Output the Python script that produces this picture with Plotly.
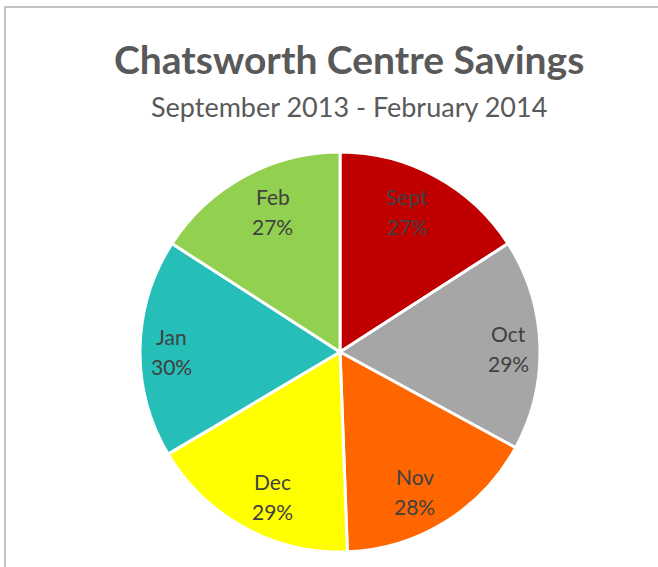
import math
import plotly.graph_objects as go

months = ["Sept", "Oct", "Nov", "Dec", "Jan", "Feb"]
savings = [27, 29, 28, 29, 30, 27]
colors = ["#C00000", "#A6A6A6", "#FF6600", "#FFFF00", "#26BEB8", "#92D050"]

W, H = 658, 567
cx, cy, r = 340, 352, 200
line_gap = 15

fig = go.Figure(go.Pie(
    labels=months,
    values=savings,
    sort=False,
    direction="clockwise",
    rotation=0,
    marker=dict(colors=colors, line=dict(color="white", width=3)),
    textinfo="none",
    hoverinfo="label+value",
    showlegend=False,
    domain=dict(x=[(cx - r) / W, (cx + r) / W], y=[1 - (cy + r) / H, 1 - (cy - r) / H]),
))

annotations = [
    dict(text="<b>Chatsworth Centre Savings</b>", x=349 / W, y=1 - 59 / H, xref="paper", yref="paper",
         showarrow=False, font=dict(family="Lato", size=39, color="#595959"), xanchor="center", yanchor="middle"),
    dict(text="September 2013 - February 2014", x=349 / W, y=1 - 106 / H, xref="paper", yref="paper",
         showarrow=False, font=dict(family="Lato", size=27, color="#595959"), xanchor="center", yanchor="middle"),
]

total = sum(savings)
cum = 0
for m, v in zip(months, savings):
    mid = (cum + v / 2) / total * 2 * math.pi
    cum += v
    s, c = math.sin(mid), math.cos(mid)
    px = cx + 0.66 * r * s + 0.185 * r * s ** 3
    py = cy + 2 - 0.81 * r * c
    for txt, dy in ((m, -line_gap), (f"{v}%", line_gap)):
        annotations.append(dict(text=txt, x=px / W, y=1 - (py + dy) / H, xref="paper", yref="paper",
                                showarrow=False, xanchor="center", yanchor="middle",
                                font=dict(family="Lato", size=21, color="#404040")))

fig.update_layout(
    width=W, height=H,
    margin=dict(l=0, r=0, t=0, b=0),
    paper_bgcolor="white",
    font=dict(family="Lato"),
    annotations=annotations,
    shapes=[
        dict(type="rect", xref="paper", yref="paper", x0=5 / W, y0=-0.05, x1=1.05, y1=1 - 7 / H,
             line=dict(color="#B0B0B0", width=1.5), fillcolor="rgba(0,0,0,0)"),
    ],
)

fig.write_html("out.html", config={"displayModeBar": False},
               post_script="document.body.style.margin='0';document.body.style.overflow='hidden';")
